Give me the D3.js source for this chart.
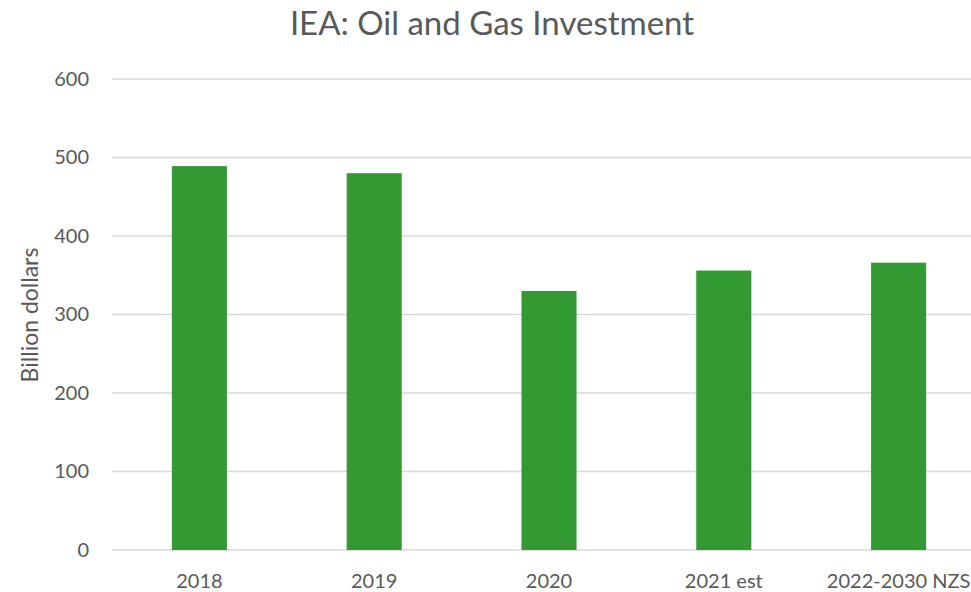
<!DOCTYPE html>
<html><head><meta charset="utf-8">
<script src="https://cdn.jsdelivr.net/npm/d3@7"></script>
<style>body{margin:0;background:#fff}svg{display:block}</style>
</head><body>
<svg id="c" width="971" height="592"></svg>
<script>
const categories = ["2018", "2019", "2020", "2021 est", "2022-2030 NZS"];
const values = [489, 480, 330, 356, 366];
const yTicks = [0, 100, 200, 300, 400, 500, 600];
const title = "IEA: Oil and Gas Investment";
const yLabel = "Billion dollars";

(function () {
const svg = d3.select("#c");
const font = "Lato, 'Open Sans', sans-serif";
const mLeft = 112, mRight = 986, mTop = 79, mBottom = 550;

const x = d3.scaleBand().domain(categories).range([mLeft, mRight]).paddingInner(0.685).paddingOuter(0.3425);
const y = d3.scaleLinear().domain([0, 600]).range([mBottom, mTop]);

svg.append("g").selectAll("line").data(yTicks).join("line")
  .attr("x1", mLeft).attr("x2", mRight)
  .attr("y1", d => y(d)).attr("y2", d => y(d))
  .attr("stroke", "#d9d9d9").attr("stroke-width", 1.5);

const ya = svg.append("g").attr("transform", `translate(${mLeft - 23},0)`)
  .call(d3.axisLeft(y).tickValues(yTicks).tickSize(0).tickPadding(0));
ya.select(".domain").remove();
ya.selectAll("text").attr("font-family", font).attr("font-size", 20).attr("fill", "#595959");

svg.append("g").selectAll("rect").data(values).join("rect")
  .attr("x", (d, i) => x(categories[i]))
  .attr("width", x.bandwidth())
  .attr("y", d => y(d))
  .attr("height", d => y(0) - y(d))
  .attr("fill", "#339933");

const xa = svg.append("g").attr("transform", `translate(0,${mBottom})`)
  .call(d3.axisBottom(x).tickSize(0).tickPadding(24));
xa.select(".domain").remove();
xa.selectAll("text").attr("font-family", font).attr("font-size", 20).attr("fill", "#595959");

svg.append("text").attr("x", 492).attr("y", 35).attr("text-anchor", "middle")
  .attr("font-family", font).attr("font-size", 33).attr("fill", "#595959").text(title);

svg.append("text").attr("transform", `translate(38,315) rotate(-90)`).attr("text-anchor", "middle")
  .attr("font-family", font).attr("font-size", 23).attr("fill", "#595959").text(yLabel);
})();
</script>
</body></html>
